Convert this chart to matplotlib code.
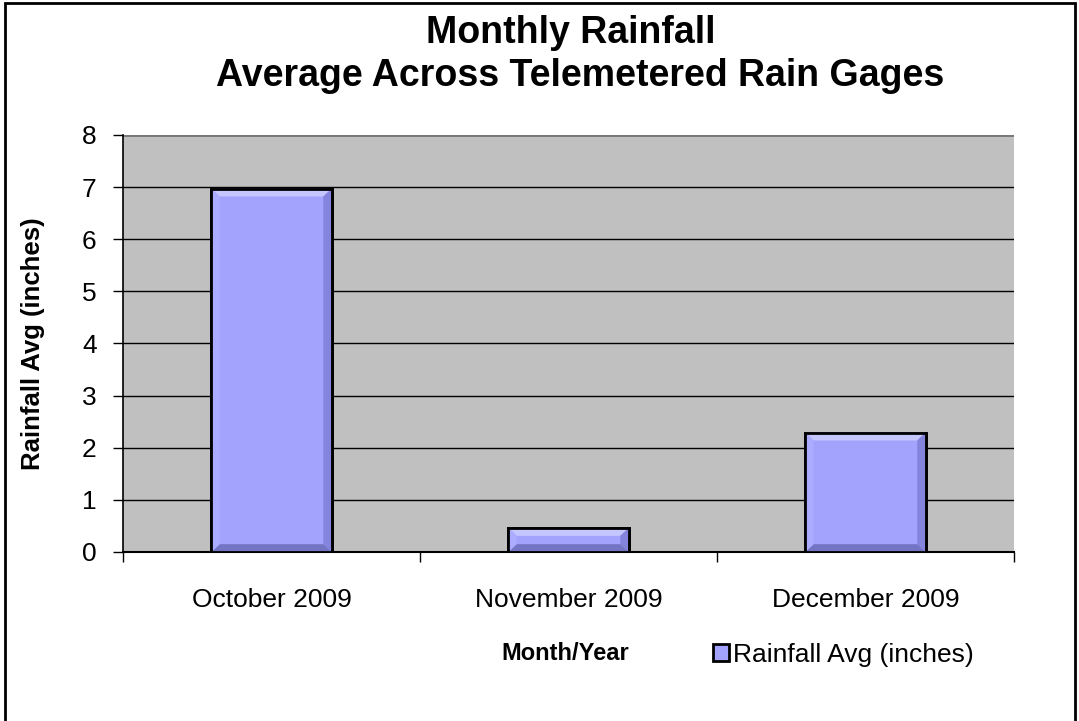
import matplotlib.pyplot as plt
from matplotlib.patches import Rectangle, Polygon
import numpy as np

plt.rcParams.update({"font.family": ["Liberation Sans", "DejaVu Sans"], "font.size": 19})

months = ["October 2009", "November 2009", "December 2009"]
rain_avg = [6.97, 0.46, 2.29]
yticks = [0, 1, 2, 3, 4, 5, 6, 7, 8]

fig = plt.figure(figsize=(10.79, 7.21), dpi=100)
ax = fig.add_axes([0.114, 0.2344, 0.8257, 0.5784])

x = np.arange(len(months))
w = 0.405
ax.set_facecolor("#c0c0c0")
ax.bar(x, rain_avg, width=w, color="#a3a3fd", edgecolor="black",
       linewidth=2, zorder=3, label="Rainfall Avg (inches)")

# bevel look: light top band, darker right and bottom bands
bx, by = 0.028, 0.15
for xi, v in zip(x, rain_avg):
    l, r = xi - w / 2, xi + w / 2
    d = min(by, v / 3)
    dx = bx * d / by
    ax.add_patch(Polygon([(l, v), (r, v), (r - dx, v - d), (l + dx, v - d)],
                         closed=True, color="#c6c6ff", lw=0, zorder=4))
    ax.add_patch(Polygon([(r, v), (r, 0), (r - dx, d), (r - dx, v - d)],
                         closed=True, color="#8484dc", lw=0, zorder=4))
    ax.add_patch(Polygon([(l, 0), (r, 0), (r - dx, d), (l + dx, d)],
                         closed=True, color="#7474c4", lw=0, zorder=4))
    ax.add_patch(Polygon([(l, 0), (l, v), (l + dx, v - d), (l + dx, d)],
                         closed=True, color="#ababff", lw=0, zorder=4))
    ax.add_patch(Rectangle((l, 0), w, v, fill=False, edgecolor="black",
                           lw=2, zorder=5))

ax.set_xlim(-0.5, 2.5)
ax.set_ylim(0, 8)
ax.set_yticks(yticks)
ax.yaxis.grid(True, color="black", linewidth=1)
ax.set_axisbelow(True)

ax.set_xticks(x)
ax.set_xticklabels(months)
ax.set_xticks([-0.5, 0.5, 1.5, 2.5], minor=True)
ax.tick_params(axis="x", which="major", length=0, pad=26)
ax.tick_params(axis="x", which="minor", length=7, width=1)
ax.tick_params(axis="y", length=7, width=1, pad=12)

for side in ["top", "right"]:
    ax.spines[side].set_visible(False)
ax.spines["left"].set_linewidth(1.2)
ax.spines["bottom"].set_linewidth(1.5)
ax.axhline(8, color="#777777", linewidth=2)

ax.set_ylabel("Rainfall Avg (inches)", fontweight="bold", fontsize=18.5)
ax.yaxis.set_label_coords(-0.088, 0.5)
fig.text(0.524, 0.094, "Month/Year", fontweight="bold", fontsize=17,
         ha="center", va="center")

fig.text(0.529, 0.954, "Monthly Rainfall", fontweight="bold", fontsize=27,
         ha="center", va="center")
fig.text(0.538, 0.895, "Average Across Telemetered Rain Gages", fontweight="bold",
         fontsize=27, ha="center", va="center")

ax.legend(loc="center left", bbox_to_anchor=(0.639, 0.092),
          bbox_transform=fig.transFigure, frameon=False, handlelength=0.6,
          handleheight=0.6, handletextpad=0.15, fontsize=19)

fig.patches.append(Rectangle((5 / 1079, -0.01), 1070 / 1079, 1 - 3 / 721 + 0.01,
                             transform=fig.transFigure, fill=False,
                             edgecolor="black", linewidth=2))

fig.savefig("out.png", dpi=100)
